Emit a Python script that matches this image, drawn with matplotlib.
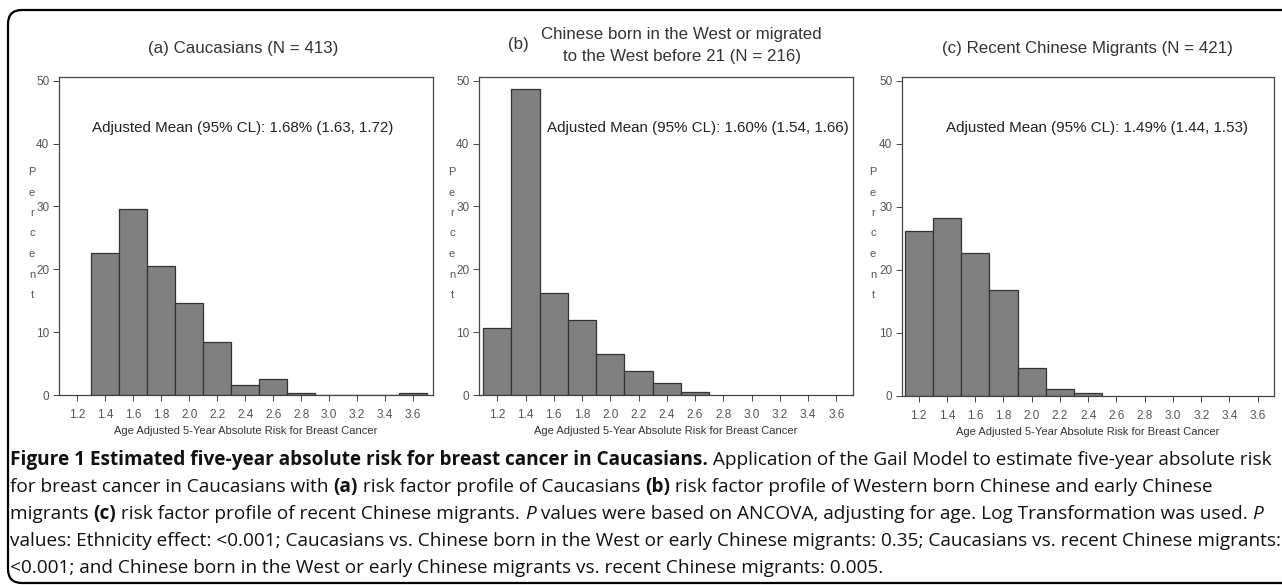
import matplotlib
matplotlib.use('agg')
import matplotlib.pyplot as plt
from matplotlib.patches import FancyBboxPatch
from matplotlib.transforms import IdentityTransform

# bin centres (width 0.2) and percent of women in each bin
bins_a = [1.4, 1.6, 1.8, 2.0, 2.2, 2.4, 2.6, 2.8, 3.0, 3.2, 3.4, 3.6]
pct_a = [22.6, 29.6, 20.6, 14.6, 8.4, 1.6, 2.5, 0.24, 0, 0, 0, 0.24]

bins_b = [1.2, 1.4, 1.6, 1.8, 2.0, 2.2, 2.4, 2.6]
pct_b = [10.6, 48.7, 16.3, 11.9, 6.5, 3.8, 1.9, 0.5]

bins_c = [1.2, 1.4, 1.6, 1.8, 2.0, 2.2, 2.4]
pct_c = [26.1, 28.3, 22.7, 16.8, 4.5, 1.1, 0.5]

xticks = [1.2, 1.4, 1.6, 1.8, 2.0, 2.2, 2.4, 2.6, 2.8, 3.0, 3.2, 3.4, 3.6]
yticks = [0, 10, 20, 30, 40, 50]

means = ["Adjusted Mean (95% CL): 1.68% (1.63, 1.72)",
         "Adjusted Mean (95% CL): 1.60% (1.54, 1.66)",
         "Adjusted Mean (95% CL): 1.49% (1.44, 1.53)"]
xlabel = "Age Adjusted 5-Year Absolute Risk for Breast Cancer"

W, H = 1282, 585
fig = plt.figure(figsize=(W / 100, H / 100), dpi=100)
fig.patch.set_facecolor('white')

GRAY = '#555555'
TXT = '#333333'
SANS = 'Liberation Sans'
TITLE_SIZE = 12.2


def px_axes(left, right, top, bottom):
    return fig.add_axes([left / W, (H - bottom) / H, (right - left) / W, (bottom - top) / H])


panels = [
    (px_axes(59, 433, 77, 395), bins_a, pct_a, (1.069, 3.743), 92, 32),
    (px_axes(479, 853, 77, 395), bins_b, pct_b, (1.071, 3.717), 547, 452),
    (px_axes(902, 1274, 77, 396), bins_c, pct_c, (1.082, 3.715), 946, 873),
]

for i, (ax, centres, vals, xlim, ann_x, plab_x) in enumerate(panels):
    ax.bar(centres, vals, width=0.2, color='#808080', edgecolor='#333333', linewidth=0.9)
    ax.set_xlim(*xlim)
    ax.set_ylim(0, 50.6)
    ax.set_xticks(xticks)
    ax.set_xticklabels(['%.1f' % t for t in xticks], fontsize=8.5, color=GRAY, family=SANS)
    ax.set_yticks(yticks)
    ax.set_yticklabels([str(t) for t in yticks], fontsize=8.5, color=GRAY, family=SANS)
    ax.tick_params(axis='both', direction='out', length=4, width=0.7, color='#444444', pad=3)
    ax.tick_params(axis='x', pad=6)
    for s in ax.spines.values():
        s.set_color('#444444')
        s.set_linewidth(0.9)
    ax.set_xlabel(xlabel, fontsize=8, color=TXT, family=SANS, labelpad=4)
    fig.text(ann_x / W, (H - 128) / H, means[i], fontsize=10.9, color='#222222',
             family=SANS, va='center', ha='left')
    # vertical stacked "Percent"
    for k, ch in enumerate("Percent"):
        fig.text(plab_x / W, (H - (172 + k * 20.5)) / H, ch, fontsize=8, color=GRAY,
                 family=SANS, ha='center', va='center')

# panel titles
fig.text(243 / W, (H - 48) / H, "(a) Caucasians (N = 413)", fontsize=TITLE_SIZE, color=TXT,
         family=SANS, ha='center', va='center')
fig.text(518 / W, (H - 45) / H, "(b)", fontsize=TITLE_SIZE, color=TXT, family=SANS,
         ha='center', va='center')
fig.text(681 / W, (H - 35) / H, "Chinese born in the West or migrated", fontsize=TITLE_SIZE,
         color=TXT, family=SANS, ha='center', va='center')
fig.text(682 / W, (H - 57) / H, "to the West before 21 (N = 216)", fontsize=TITLE_SIZE,
         color=TXT, family=SANS, ha='center', va='center')
fig.text(1087 / W, (H - 48) / H, "(c) Recent Chinese Migrants (N = 421)", fontsize=TITLE_SIZE,
         color=TXT, family=SANS, ha='center', va='center')

# outer rounded frame (right side runs off the image)
frame = FancyBboxPatch((8, H - 583), 1320, 573, boxstyle="round,pad=0,rounding_size=14",
                       transform=IdentityTransform(), facecolor='none', edgecolor='black',
                       linewidth=1.6)
fig.add_artist(frame)

# caption, built from runs of normal / bold / italic text
caption = [
    [("Figure 1 Estimated five-year absolute risk for breast cancer in Caucasians.", 'bold', 'normal'),
     (" Application of the Gail Model to estimate five-year absolute risk", 'normal', 'normal')],
    [("for breast cancer in Caucasians with ", 'normal', 'normal'), ("(a)", 'bold', 'normal'),
     (" risk factor profile of Caucasians ", 'normal', 'normal'), ("(b)", 'bold', 'normal'),
     (" risk factor profile of Western born Chinese and early Chinese", 'normal', 'normal')],
    [("migrants ", 'normal', 'normal'), ("(c)", 'bold', 'normal'),
     (" risk factor profile of recent Chinese migrants. ", 'normal', 'normal'),
     ("P", 'normal', 'italic'),
     (" values were based on ANCOVA, adjusting for age. Log Transformation was used. ", 'normal', 'normal'),
     ("P", 'normal', 'italic')],
    [("values: Ethnicity effect: <0.001; Caucasians vs. Chinese born in the West or early Chinese "
      "migrants: 0.35; Caucasians vs. recent Chinese migrants:", 'normal', 'normal')],
    [("<0.001; and Chinese born in the West or early Chinese migrants vs. recent Chinese migrants: 0.005.",
      'normal', 'normal')],
]

CAP_FONT = 'Open Sans'
renderer = fig.canvas.get_renderer()


def run_width(s, weight, style, size):
    t1 = fig.text(0, 0, "|" + s + "|", fontsize=size, family=CAP_FONT, weight=weight, style=style)
    t2 = fig.text(0, 0, "||", fontsize=size, family=CAP_FONT, weight=weight, style=style)
    w = t1.get_window_extent(renderer).width - t2.get_window_extent(renderer).width
    t1.remove()
    t2.remove()
    return w


# fit caption size so the first line spans the frame width
base = 11.0
w1 = sum(run_width(s, wt, st, base) for s, wt, st in caption[0])
cap_size = base * 1262 / w1

line_y = [460, 487, 514, 541, 568]
for line, y in zip(caption, line_y):
    x = 10.0
    for s, wt, st in line:
        fig.text(x / W, (H - y) / H, s, fontsize=cap_size, family=CAP_FONT, weight=wt,
                 style=st, color='#111111', ha='left', va='center')
        x += run_width(s, wt, st, cap_size)

fig.savefig('out.png', dpi=100)
